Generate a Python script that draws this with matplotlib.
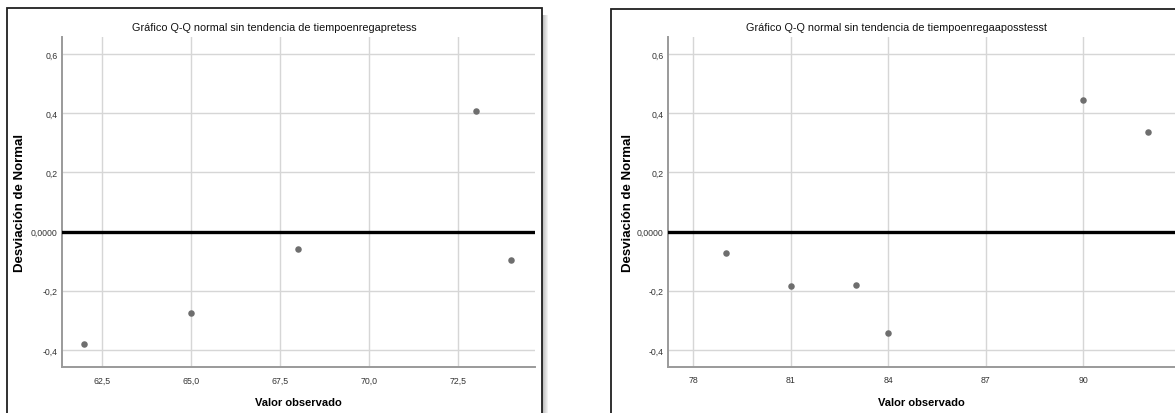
import matplotlib
matplotlib.use("Agg")
from matplotlib import pyplot as plt
from matplotlib import font_manager
from matplotlib.patches import Rectangle

pre_obs = [62, 65, 68, 73, 74]
pre_dev = [-0.38, -0.277, -0.058, 0.407, -0.096]
post_obs = [79, 81, 83, 84, 90, 92]
post_dev = [-0.072, -0.183, -0.179, -0.343, 0.446, 0.336]

pre_xticks = [62.5, 65.0, 67.5, 70.0, 72.5]
post_xticks = [78, 81, 84, 87, 90]
yticks = [-0.4, -0.2, 0.0, 0.2, 0.4, 0.6]

titles = ["Gráfico Q-Q normal sin tendencia de tiempoenregapretess",
          "Gráfico Q-Q normal sin tendencia de tiempoenregaaposstesst"]


def pick_font(names):
    avail = set(f.name for f in font_manager.fontManager.ttflist)
    for n in names:
        if n in avail:
            return n
    return "DejaVu Sans"

narrow = pick_font(["Liberation Sans Narrow", "Arial Narrow", "Liberation Sans"])
arial = pick_font(["Liberation Sans", "Arial", "DejaVu Sans"])


def fmt(v, nd):
    s = f"{v:.{nd}f}".replace(".", ",")
    return s


W, H = 1175, 414
fig = plt.figure(figsize=(W / 100, H / 100), dpi=100)
fig.patch.set_facecolor("white")


def fx(px):
    return px / W


def fy(py):
    return 1 - py / H


# panel frames with a soft shadow on the first one
for i in range(6):
    fig.patches.append(Rectangle((fx(542 + i), fy(420)), fx(1), (420 - 16) / H,
                                 transform=fig.transFigure, facecolor="black",
                                 alpha=0.28 - i * 0.045, edgecolor="none", zorder=0))
fig.patches.append(Rectangle((fx(7), fy(420)), fx(535), (420 - 9) / H,
                             transform=fig.transFigure, facecolor="white",
                             edgecolor="#202020", linewidth=1.3, zorder=1))
fig.patches.append(Rectangle((fx(611), fy(420)), fx(600), (420 - 10) / H,
                             transform=fig.transFigure, facecolor="white",
                             edgecolor="#202020", linewidth=1.3, zorder=1))


def panel(rect, obs, dev, xticks, xlim, xlabels, title, title_x, ylab_x):
    ax = fig.add_axes(rect)
    ax.set_zorder(2)
    ax.patch.set_alpha(0)
    ax.set_xlim(*xlim)
    ax.set_ylim(-0.458, 0.658)
    ax.set_xticks(xticks)
    ax.set_xticklabels(xlabels, fontsize=6.3, family=narrow, color="#333333")
    ax.set_yticks(yticks)
    ax.set_yticklabels([fmt(v, 4) if v == 0 else fmt(v, 1) for v in yticks],
                       fontsize=6.3, family=narrow, color="#333333")
    ax.tick_params(length=0)
    ax.tick_params(axis="x", pad=6)
    ax.tick_params(axis="y", pad=3)
    ax.grid(True, color="#d6d6d6", linewidth=1.0)
    ax.set_axisbelow(True)
    for s in ["top", "right"]:
        ax.spines[s].set_visible(False)
    for s in ["left", "bottom"]:
        ax.spines[s].set_color("#9a9a9a")
        ax.spines[s].set_linewidth(1.4)
    ax.axhline(0, color="black", linewidth=2.4, zorder=3)
    ax.scatter(obs, dev, s=22, color="#6e6e6e", zorder=4, linewidths=0)
    ax.set_xlabel("Valor observado", fontsize=8, family=narrow, fontweight="bold",
                  labelpad=9)
    fig.text(title_x, fy(28), title, ha="center", va="center", fontsize=7.8,
             family=narrow, color="#111111")
    fig.text(ylab_x, fy(203), "Desviación de Normal", rotation=90, ha="center",
             va="center", fontsize=9.5, family=arial, fontweight="bold")
    return ax


panel([fx(62), 1 - 368 / H, fx(473), 330 / H], pre_obs, pre_dev, pre_xticks,
      (61.38, 74.66), [fmt(v, 1) for v in pre_xticks], titles[0], fx(274), fx(20))
panel([fx(668), 1 - 368 / H, fx(507), 330 / H], post_obs, post_dev, post_xticks,
      (77.23, 92.83), [str(v) for v in post_xticks], titles[1], fx(896), fx(628))

fig.savefig("out.png", dpi=100)
